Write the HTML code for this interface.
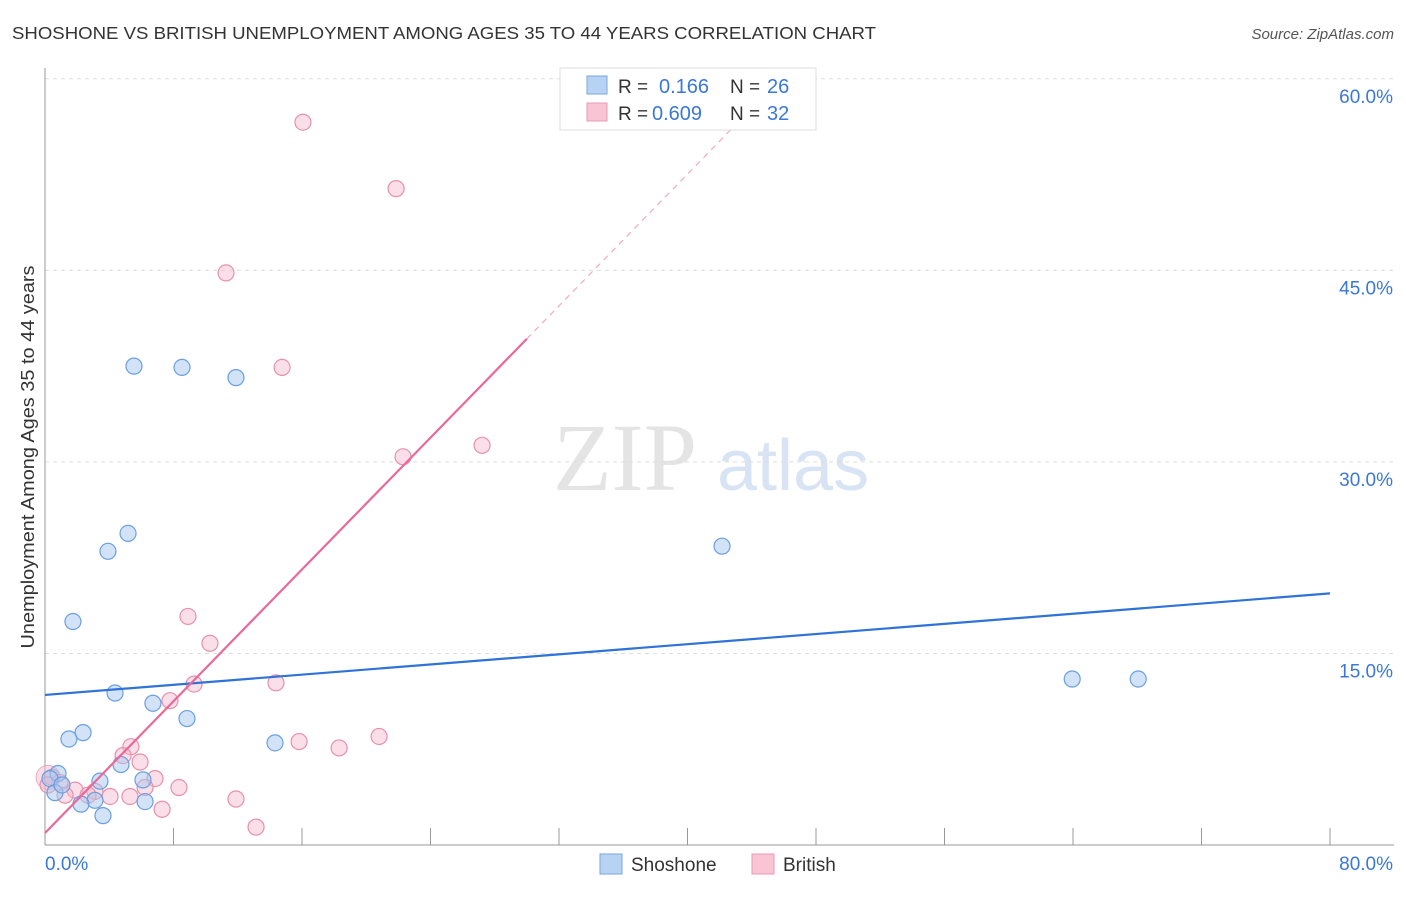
<!DOCTYPE html>
<html><head><meta charset="utf-8"><style>
body{margin:0;background:#fff;font-family:"Liberation Sans",sans-serif}
</style></head><body>
<svg width="1406" height="892" xmlns="http://www.w3.org/2000/svg">
<text x="12" y="39" font-size="17.5" fill="#333" textLength="864" lengthAdjust="spacingAndGlyphs">SHOSHONE VS BRITISH UNEMPLOYMENT AMONG AGES 35 TO 44 YEARS CORRELATION CHART</text>
<text x="1394" y="39" font-size="15" fill="#555" font-style="italic" text-anchor="end">Source: ZipAtlas.com</text>
<g>
<text x="553" y="490" font-size="96" font-family="Liberation Serif,serif" fill="#e4e4e4">ZIP</text>
<text x="717" y="490" font-size="72" fill="#d8e4f4">atlas</text>
</g>
<g id="grid"></g>
<line x1="45" y1="68" x2="45" y2="845" stroke="#999"/>
<line x1="45" y1="845" x2="1394" y2="845" stroke="#999"/>
<g id="ticks"></g>
<text transform="translate(34,457) rotate(-90)" font-size="18" fill="#333" text-anchor="middle" textLength="383" lengthAdjust="spacingAndGlyphs">Unemployment Among Ages 35 to 44 years</text>
<text x="45" y="870" font-size="19" fill="#3a78d8">0.0%</text>
<text x="1393" y="870" font-size="19" fill="#3a78d8" text-anchor="end">80.0%</text>
<g id="pts"></g>
<g id="lines"></g>
<g>
<rect x="560" y="68" width="256" height="62" fill="#fff" stroke="#ddd"/>
<rect x="587" y="76" width="20" height="18" fill="#b8d2f4" stroke="#7aa6e0"/>
<rect x="587" y="103" width="20" height="18" fill="#f9c4d4" stroke="#ec9ab4"/>
<text x="618" y="93" font-size="19" fill="#333">R =</text>
<text x="659" y="93" font-size="20" fill="#3a78d8">0.166</text>
<text x="730" y="93" font-size="19" fill="#333">N =</text>
<text x="767" y="93" font-size="20" fill="#3a78d8">26</text>
<text x="618" y="120" font-size="19" fill="#333">R =</text>
<text x="652" y="120" font-size="20" fill="#3a78d8">0.609</text>
<text x="730" y="120" font-size="19" fill="#333">N =</text>
<text x="767" y="120" font-size="20" fill="#3a78d8">32</text>
</g>
<g>
<rect x="600" y="854" width="22" height="20" fill="#b8d2f4" stroke="#7aa6e0"/>
<text x="631" y="871" font-size="19" fill="#333">Shoshone</text>
<rect x="752" y="854" width="22" height="20" fill="#f9c4d4" stroke="#ec9ab4"/>
<text x="783" y="871" font-size="19" fill="#333">British</text>
</g>
</svg>
<script>
const yTicks=[15,30,45,60];
const xTickVals=[0,10,20,30,40,50,60,70,80,90,100].map(i=>i*0.8);
const blueX=[5.54,8.53,11.89,5.17,3.92,1.74,42.15,63.95,68.06,4.36,6.72,8.84,2.37,1.49,14.32,4.73,3.42,6.10,0.81,0.31,0.62,3.11,2.24,6.23,3.61,1.06];
const blueY=[37.5,37.4,36.6,24.4,23.0,17.5,23.4,13.0,13.0,11.9,11.1,9.9,8.8,8.3,8.0,6.3,5.0,5.1,5.6,5.2,4.1,3.5,3.2,3.4,2.3,4.7];
const pinkX=[16.06,21.86,11.27,14.76,27.21,22.29,8.90,10.27,9.28,14.38,7.78,15.82,18.31,20.80,5.35,4.86,5.92,6.85,8.34,6.23,11.89,7.29,13.14,0.44,0.93,1.87,3.11,4.05,5.29,1.25,2.68,0.19];
const pinkY=[56.6,51.4,44.8,37.4,31.3,30.4,17.9,15.8,12.6,12.7,11.3,8.1,7.6,8.5,7.7,7.0,6.5,5.2,4.5,4.5,3.6,2.8,1.4,5.3,4.9,4.3,4.2,3.8,3.8,3.9,3.9,4.7];
const blueTrend=[11.75,0.0994]; // intercept, slope
const pinkTrend=[0.94,1.29];
const X=v=>45+v*16.0625, Y=v=>845-v*12.77;
const NS="http://www.w3.org/2000/svg";
function mk(t,a,p){const e=document.createElementNS(NS,t);for(const k in a)e.setAttribute(k,a[k]);p.appendChild(e);return e;}
const grid=document.getElementById('grid'),ticks=document.getElementById('ticks'),pts=document.getElementById('pts'),lines=document.getElementById('lines');
yTicks.forEach(v=>{
 const l=mk('line',{x1:45,x2:1394,y1:Y(v),y2:Y(v),stroke:'#ddd','stroke-dasharray':'4,4'},grid);
 
 
 const t=mk('text',{x:1393,y:Y(v)+24,'font-size':19,fill:'#3a78d8','text-anchor':'end'},grid);
 t.textContent=v.toFixed(1)+'%';
 
 
});
xTickVals.forEach(v=>{
 const l=mk('line',{x1:X(v),x2:X(v),y1:828,y2:845,stroke:'#999'},ticks);
 
 
});
const big=mk('circle',{cx:X(0.19),cy:Y(5.3),r:12,fill:'#f5b8cc','fill-opacity':0.45,stroke:'#e890aa','stroke-opacity':0.7},pts);


pinkX.forEach((x,i)=>{
 const c=mk('circle',{cx:X(x),cy:Y(pinkY[i]),r:8,fill:'#f5b8cc','fill-opacity':0.45,stroke:'#e890aa','stroke-width':1.2},pts);
 
 
});
blueX.forEach((x,i)=>{
 const c=mk('circle',{cx:X(x),cy:Y(blueY[i]),r:8,fill:'#a8c8f0','fill-opacity':0.5,stroke:'#6a9fe0','stroke-width':1.2},pts);
 
 
});
const bl=mk('line',{x1:X(0),y1:Y(blueTrend[0]),x2:X(80),y2:Y(blueTrend[0]+80*blueTrend[1]),stroke:'#2f72d8','stroke-width':2.2},lines);


const pl=mk('line',{x1:X(0),y1:Y(pinkTrend[0]),x2:X(30),y2:Y(pinkTrend[0]+30*pinkTrend[1]),stroke:'#e8699a','stroke-width':2.2},lines);


const pd=mk('line',{x1:X(30),y1:Y(pinkTrend[0]+30*pinkTrend[1]),x2:X(43.5),y2:Y(pinkTrend[0]+43.5*pinkTrend[1]),stroke:'#f0a8c0','stroke-width':1.2,'stroke-dasharray':'6,5'},lines);


</script>
</body></html>
